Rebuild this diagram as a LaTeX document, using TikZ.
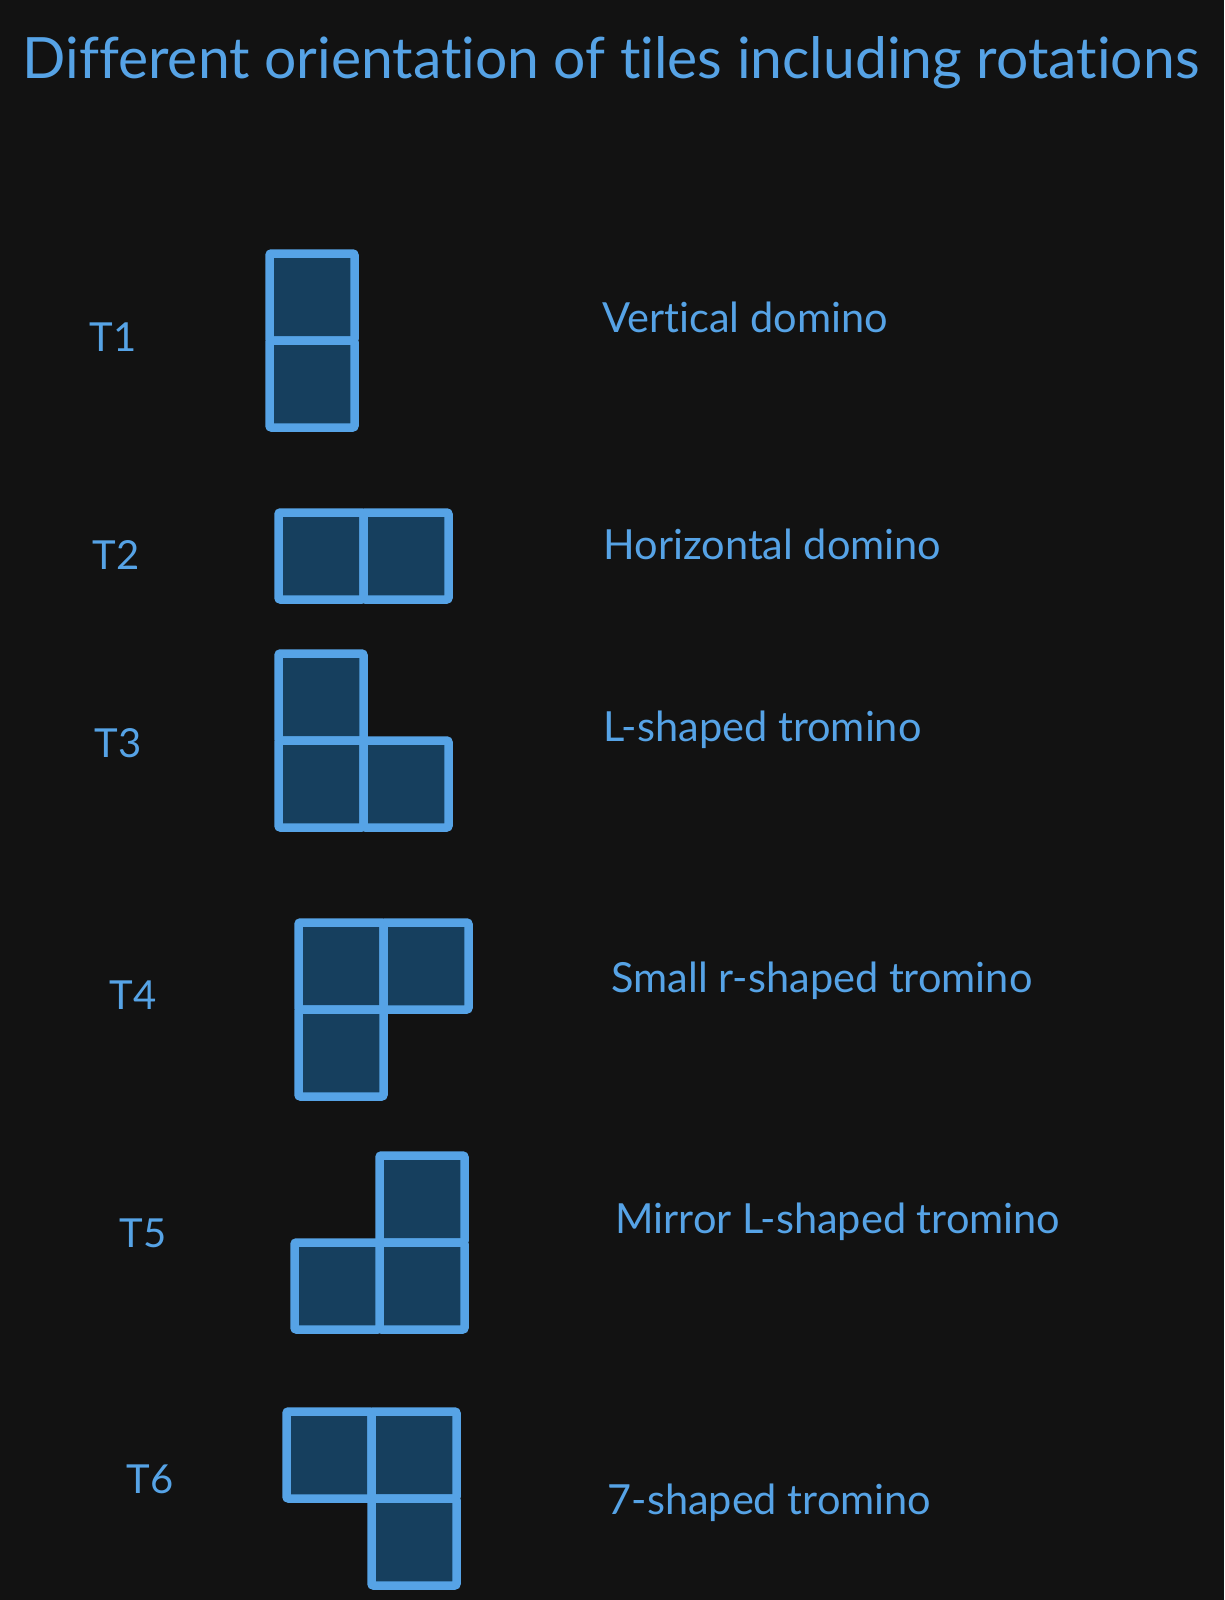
\documentclass[tikz,border=0pt]{standalone}
\usepackage{fontspec}
\setmainfont{Lato}[Ligatures={NoCommon}]
\usetikzlibrary{positioning}
\definecolor{bg}{HTML}{121212}
\definecolor{tileline}{HTML}{56A3E6}
\definecolor{tilefill}{HTML}{163F5E}
\begin{document}
\begin{tikzpicture}[
x=1pt,y=-1pt,
cell/.style={%
draw=tileline,
fill=tilefill,
line width=8.5pt,
rounded corners=2pt,
minimum width=85pt,
minimum height=87pt,
inner sep=0pt,
outer sep=0pt
},
tname/.style={%
anchor=base west,
text=tileline,
font=\fontsize{40}{40}\selectfont
},
desc/.style={%
anchor=base west,
text=tileline,
font=\fontsize{41.5}{41.5}\selectfont
}
]
%% Canvas
\fill[bg](0,0)rectangle(1224,1600);
\useasboundingbox(0,0)rectangle(1224,1600);
%% Title
\node[anchor=base,text=tileline,font=\fontsize{57}{57}\selectfont]at(611,79)(title){Different orientation of tiles including rotations};
%% T1
\node[tname]at(86,351)(n1){T1};
\node[cell]at(312,297)(t1a){};
\node[cell,below=0pt of t1a](t1b){};
\node[desc]at(599,332)(d1){Vertical domino};
%% T2
\node[tname]at(89,569)(n2){T2};
\node[cell]at(321,556)(t2a){};
\node[cell,right=0pt of t2a](t2b){};
\node[desc]at(600,559)(d2){Horizontal domino};
%% T3
\node[tname]at(91,757)(n3){T3};
\node[cell]at(321,697)(t3a){};
\node[cell,below=0pt of t3a](t3b){};
\node[cell,right=0pt of t3b](t3c){};
\node[desc]at(600,741)(d3){L-shaped tromino};
%% T4
\node[tname]at(106,1009)(n4){T4};
\node[cell]at(341,966)(t4a){};
\node[cell,right=0pt of t4a](t4b){};
\node[cell,below=0pt of t4a](t4c){};
\node[desc]at(608,992)(d4){Small r-shaped tromino};
%% T5
\node[tname]at(116,1247)(n5){T5};
\node[cell]at(422,1199)(t5a){};
\node[cell,below=0pt of t5a](t5b){};
\node[cell,left=0pt of t5b](t5c){};
\node[desc]at(612,1233)(d5){Mirror L-shaped tromino};
%% T6
\node[tname]at(123,1493)(n6){T6};
\node[cell]at(329,1455)(t6a){};
\node[cell,right=0pt of t6a](t6b){};
\node[cell,below=0pt of t6b](t6c){};
\node[desc]at(604,1514)(d6){7-shaped tromino};
\end{tikzpicture}
\end{document}
